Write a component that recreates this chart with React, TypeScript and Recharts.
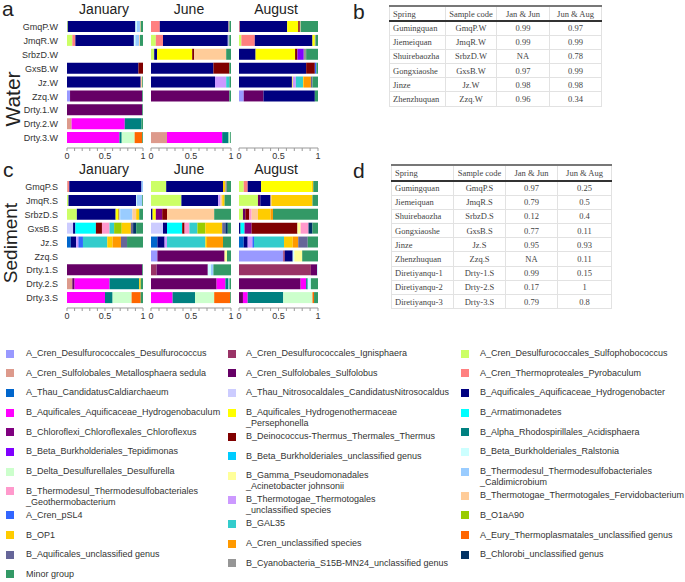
import React from 'react';
import { BarChart, Bar, XAxis, YAxis } from 'recharts';

// taxa in stacking order (same as legend, read row by row)
const taxa = [
  { key: 'Desulfurococcus', label: 'A_Cren_Desulfurococcales_Desulfurococcus', color: '#9999ff' },
  { key: 'Ignisphaera', label: 'A_Cren_Desulfurococcales_Ignisphaera', color: '#993366' },
  { key: 'Sulfophobococcus', label: 'A_Cren_Desulfurococcales_Sulfophobococcus', color: '#ccff66' },
  { key: 'Metallosphaera', label: 'A_Cren_Sulfolobales_Metallosphaera sedula', color: '#dd9a8c' },
  { key: 'Sulfolobus', label: 'A_Cren_Sulfolobales_Sulfolobus', color: '#660066' },
  { key: 'Pyrobaculum', label: 'A_Cren_Thermoproteales_Pyrobaculum', color: '#ff8080' },
  { key: 'Caldiarchaeum', label: 'A_Thau_CandidatusCaldiarchaeum', color: '#0066cc' },
  { key: 'Nitrosocaldus', label: 'A_Thau_Nitrosocaldales_CandidatusNitrosocaldus', color: '#ccccff' },
  { key: 'Hydrogenobacter', label: 'B_Aquificales_Aquificaceae_Hydrogenobacter', color: '#000080' },
  { key: 'Hydrogenobaculum', label: 'B_Aquificales_Aquificaceae_Hydrogenobaculum', color: '#ff00ff' },
  { key: 'Persephonella', label: 'B_Aquificales_Hydrogenothermaceae\n_Persephonella', color: '#ffff00' },
  { key: 'Armatimonadetes', label: 'B_Armatimonadetes', color: '#00ffff' },
  { key: 'Chloroflexus', label: 'B_Chloroflexi_Chloroflexales_Chloroflexus', color: '#800080' },
  { key: 'Thermus', label: 'B_Deinococcus-Thermus_Thermales_Thermus', color: '#800000' },
  { key: 'Acidisphaera', label: 'B_Alpha_Rhodospirillales_Acidisphaera', color: '#008080' },
  { key: 'Tepidimonas', label: 'B_Beta_Burkholderiales_Tepidimonas', color: '#8000ff' },
  { key: 'BetaUncl', label: 'B_Beta_Burkholderiales_unclassified genus', color: '#00ccff' },
  { key: 'Ralstonia', label: 'B_Beta_Burkholderiales_Ralstonia', color: '#ccffff' },
  { key: 'Desulfurella', label: 'B_Delta_Desulfurellales_Desulfurella', color: '#ccffcc' },
  { key: 'Acinetobacter', label: 'B_Gamma_Pseudomonadales\n_Acinetobacter johnsonii', color: '#ffff99' },
  { key: 'Caldimicrobium', label: 'B_Thermodesul_Thermodesulfobacteriales\n_Caldimicrobium', color: '#99ccff' },
  { key: 'Geothermobacterium', label: 'B_Thermodesul_Thermodesulfobacteriales\n_Geothermobacterium', color: '#ff99cc' },
  { key: 'ThermotogalesUncl', label: 'B_Thermotogae_Thermotogales\n_unclassified species', color: '#cc99ff' },
  { key: 'Fervidobacterium', label: 'B_Thermotogae_Thermotogales_Fervidobacterium', color: '#ffcc99' },
  { key: 'pSL4', label: 'A_Cren_pSL4', color: '#3366ff' },
  { key: 'GAL35', label: 'B_GAL35', color: '#33cccc' },
  { key: 'O1aA90', label: 'B_O1aA90', color: '#99cc00' },
  { key: 'OP1', label: 'B_OP1', color: '#ffcc00' },
  { key: 'CrenUncl', label: 'A_Cren_unclassified species', color: '#ff9900' },
  { key: 'EuryUncl', label: 'A_Eury_Thermoplasmatales_unclassified genus', color: '#ff6600' },
  { key: 'AquificalesUncl', label: 'B_Aquificales_unclassified genus', color: '#666699' },
  { key: 'Cyanobacteria', label: 'B_Cyanobacteria_S15B-MN24_unclassified genus', color: '#969696' },
  { key: 'ChlorobiUncl', label: 'B_Chlorobi_unclassified genus', color: '#003366' },
  { key: 'Minor', label: 'Minor group', color: '#339966' },
];

const waterSamples = ['GmqP.W', 'JmqR.W', 'SrbzD.W', 'GxsB.W', 'Jz.W', 'Zzq.W', 'Drty.1.W', 'Drty.2.W', 'Drty.3.W'];
const sedimentSamples = ['GmqP.S', 'JmqR.S', 'SrbzD.S', 'GxsB.S', 'Jz.S', 'Zzq.S', 'Drty.1.S', 'Drty.2.S', 'Drty.3.S'];
const months = ['January', 'June', 'August'];
const xTicks = [0, 0.1, 0.2, 0.3, 0.4, 0.5, 0.6, 0.7, 0.8, 0.9, 1];

type Abund = Record<string, Record<string, number>>;

const waterJan: Abund = {
  'GmqP.W': { Sulfophobococcus: 0.01, Hydrogenobacter: 0.89, Ralstonia: 0.02, Caldimicrobium: 0.04, Fervidobacterium: 0.01, Minor: 0.03 },
  'JmqR.W': { Sulfophobococcus: 0.07, Pyrobaculum: 0.04, Hydrogenobacter: 0.77, Ralstonia: 0.02, Caldimicrobium: 0.05, Fervidobacterium: 0.01, Minor: 0.04 },
  'GxsB.W': { Hydrogenobacter: 0.94, Thermus: 0.06 },
  'Jz.W': { Hydrogenobacter: 0.97, Fervidobacterium: 0.02, Minor: 0.01 },
  'Zzq.W': { Desulfurococcus: 0.04, Sulfolobus: 0.95, Minor: 0.01 },
  'Drty.1.W': { Sulfolobus: 0.99, Minor: 0.01 },
  'Drty.2.W': { Metallosphaera: 0.06, Hydrogenobaculum: 0.7, Acidisphaera: 0.22, Minor: 0.02 },
  'Drty.3.W': { Hydrogenobaculum: 0.69, Acidisphaera: 0.03, Desulfurella: 0.17, EuryUncl: 0.1, Minor: 0.01 },
};

const waterJun: Abund = {
  'GmqP.W': { Pyrobaculum: 0.11, Hydrogenobacter: 0.86, Fervidobacterium: 0.01, Minor: 0.02 },
  'JmqR.W': { Sulfophobococcus: 0.06, Pyrobaculum: 0.09, Hydrogenobacter: 0.81, Caldimicrobium: 0.01, Cyanobacteria: 0.01, Minor: 0.02 },
  'SrbzD.W': { Sulfophobococcus: 0.04, Hydrogenobacter: 0.035, Persephonella: 0.44, Thermus: 0.025, Fervidobacterium: 0.4, Minor: 0.06 },
  'GxsB.W': { Hydrogenobacter: 0.78, Thermus: 0.2, Minor: 0.02 },
  'Jz.W': { Hydrogenobacter: 0.8, ThermotogalesUncl: 0.14, GAL35: 0.04, Minor: 0.02 },
  'Zzq.W': { Sulfolobus: 0.98, Minor: 0.02 },
  'Drty.3.W': { Metallosphaera: 0.2, Hydrogenobaculum: 0.69, Acidisphaera: 0.08, Desulfurella: 0.02, Minor: 0.01 },
};

const waterAug: Abund = {
  'GmqP.W': { Pyrobaculum: 0.01, Hydrogenobacter: 0.6, Persephonella: 0.14, Thermus: 0.02, Fervidobacterium: 0.01, Minor: 0.22 },
  'JmqR.W': { Sulfophobococcus: 0.03, Pyrobaculum: 0.17, Hydrogenobacter: 0.73, Persephonella: 0.03, Cyanobacteria: 0.01, Minor: 0.03 },
  'SrbzD.W': { Hydrogenobacter: 0.21, Persephonella: 0.5, Thermus: 0.03, Tepidimonas: 0.08, Cyanobacteria: 0.03, Minor: 0.15 },
  'GxsB.W': { Hydrogenobacter: 0.85, Thermus: 0.11, pSL4: 0.02, Minor: 0.02 },
  'Jz.W': { Hydrogenobacter: 0.67, Persephonella: 0.01, ThermotogalesUncl: 0.04, GAL35: 0.09, OP1: 0.01, CrenUncl: 0.09, AquificalesUncl: 0.02, Minor: 0.07 },
  'Zzq.W': { Desulfurococcus: 0.06, Sulfolobus: 0.25, Hydrogenobacter: 0.65, Minor: 0.04 },
};

const sedJan: Abund = {
  'GmqP.S': { Metallosphaera: 0.01, Pyrobaculum: 0.02, Hydrogenobacter: 0.95, Caldimicrobium: 0.02 },
  'JmqR.S': { Sulfophobococcus: 0.02, Hydrogenobacter: 0.89, Ralstonia: 0.01, Caldimicrobium: 0.07, Minor: 0.01 },
  'SrbzD.S': { Sulfophobococcus: 0.13, Hydrogenobacter: 0.51, Persephonella: 0.04, Thermus: 0.01, Ralstonia: 0.01, Caldimicrobium: 0.16, Fervidobacterium: 0.05, OP1: 0.04, Minor: 0.05 },
  'GxsB.S': { Nitrosocaldus: 0.08, Hydrogenobacter: 0.03, Armatimonadetes: 0.27, Thermus: 0.08, Geothermobacterium: 0.1, GAL35: 0.06, O1aA90: 0.1, OP1: 0.12, AquificalesUncl: 0.03, ChlorobiUncl: 0.04, Minor: 0.09 },
  'Jz.S': { Caldiarchaeum: 0.05, Hydrogenobacter: 0.07, ThermotogalesUncl: 0.03, pSL4: 0.06, GAL35: 0.32, OP1: 0.07, CrenUncl: 0.11, AquificalesUncl: 0.08, Minor: 0.21 },
  'Drty.1.S': { Sulfolobus: 0.99, Minor: 0.01 },
  'Drty.2.S': { Metallosphaera: 0.07, Sulfolobus: 0.03, Hydrogenobaculum: 0.46, Acidisphaera: 0.39, OP1: 0.02, Minor: 0.03 },
  'Drty.3.S': { Hydrogenobaculum: 0.5, Acidisphaera: 0.1, Desulfurella: 0.25, EuryUncl: 0.12, Minor: 0.03 },
};

const sedJun: Abund = {
  'GmqP.S': { Sulfophobococcus: 0.19, Hydrogenobacter: 0.71, OP1: 0.03, Cyanobacteria: 0.02, Minor: 0.05 },
  'JmqR.S': { Sulfophobococcus: 0.38, Hydrogenobacter: 0.46, ThermotogalesUncl: 0.03, Fervidobacterium: 0.02, OP1: 0.03, Minor: 0.08 },
  'SrbzD.S': { Hydrogenobacter: 0.02, Persephonella: 0.04, Chloroflexus: 0.08, Thermus: 0.06, Fervidobacterium: 0.59, Minor: 0.21 },
  'GxsB.S': { Nitrosocaldus: 0.15, Hydrogenobacter: 0.05, Armatimonadetes: 0.19, Thermus: 0.03, Geothermobacterium: 0.06, GAL35: 0.1, O1aA90: 0.1, OP1: 0.21, AquificalesUncl: 0.04, ChlorobiUncl: 0.03, Minor: 0.04 },
  'Jz.S': { Caldiarchaeum: 0.08, Hydrogenobacter: 0.09, ThermotogalesUncl: 0.03, GAL35: 0.48, OP1: 0.02, CrenUncl: 0.2, Minor: 0.1 },
  'Zzq.S': { Desulfurococcus: 0.08, Sulfolobus: 0.84, Acinetobacter: 0.03, Minor: 0.05 },
  'Drty.1.S': { Ignisphaera: 0.07, Sulfolobus: 0.64, Ralstonia: 0.04, Caldimicrobium: 0.03, Minor: 0.22 },
  'Drty.2.S': { Sulfolobus: 0.82, Hydrogenobaculum: 0.11, Acidisphaera: 0.04, Ralstonia: 0.01, Minor: 0.02 },
  'Drty.3.S': { Hydrogenobaculum: 0.27, Acidisphaera: 0.28, Desulfurella: 0.24, EuryUncl: 0.2, Minor: 0.01 },
};

const sedAug: Abund = {
  'GmqP.S': { Sulfophobococcus: 0.06, Pyrobaculum: 0.05, Hydrogenobacter: 0.17, Persephonella: 0.64, OP1: 0.02, Minor: 0.06 },
  'JmqR.S': { Sulfolobus: 0.03, Sulfophobococcus: 0.24, Hydrogenobacter: 0.13, Fervidobacterium: 0.01, OP1: 0.52, Minor: 0.07 },
  'SrbzD.S': { Sulfophobococcus: 0.05, Sulfolobus: 0.03, Thermus: 0.05, Geothermobacterium: 0.03, Fervidobacterium: 0.08, OP1: 0.16, CrenUncl: 0.03, Minor: 0.57 },
  'GxsB.S': { Hydrogenobacter: 0.02, Armatimonadetes: 0.05, Chloroflexus: 0.09, Thermus: 0.58, Geothermobacterium: 0.1, Acinetobacter: 0.04, ChlorobiUncl: 0.05, Minor: 0.07 },
  'Jz.S': { Caldiarchaeum: 0.06, Hydrogenobacter: 0.05, ThermotogalesUncl: 0.06, pSL4: 0.02, GAL35: 0.38, OP1: 0.11, CrenUncl: 0.07, AquificalesUncl: 0.12, Minor: 0.13 },
  'Zzq.S': { Desulfurococcus: 0.56, Ignisphaera: 0.02, Hydrogenobacter: 0.1, Ralstonia: 0.02, Acinetobacter: 0.1, Minor: 0.2 },
  'Drty.1.S': { Ignisphaera: 0.91, Sulfolobus: 0.08, Ralstonia: 0.01 },
  'Drty.2.S': { Sulfolobus: 0.78, Hydrogenobaculum: 0.07, Acidisphaera: 0.02, Ralstonia: 0.04, Minor: 0.09 },
  'Drty.3.S': { Sulfolobus: 0.05, Hydrogenobaculum: 0.06, Acidisphaera: 0.45, Desulfurella: 0.37, EuryUncl: 0.02, Minor: 0.05 },
};

const tableHeader = ['Spring', 'Sample code', 'Jan & Jun', 'Jun & Aug'];
const tableWater = [
  ['Gumingquan', 'GmqP.W', '0.99', '0.97'],
  ['Jiemeiquan', 'JmqR.W', '0.99', '0.99'],
  ['Shuirebaozha', 'SrbzD.W', 'NA', '0.78'],
  ['Gongxiaoshe', 'GxsB.W', '0.97', '0.99'],
  ['Jinze', 'Jz.W', '0.98', '0.98'],
  ['Zhenzhuquan', 'Zzq.W', '0.96', '0.34'],
];
const tableSediment = [
  ['Gumingquan', 'GmqP.S', '0.97', '0.25'],
  ['Jiemeiquan', 'JmqR.S', '0.79', '0.5'],
  ['Shuirebaozha', 'SrbzD.S', '0.12', '0.4'],
  ['Gongxiaoshe', 'GxsB.S', '0.77', '0.11'],
  ['Jinze', 'Jz.S', '0.95', '0.93'],
  ['Zhenzhuquan', 'Zzq.S', 'NA', '0.11'],
  ['Diretiyanqu-1', 'Drty-1.S', '0.99', '0.15'],
  ['Diretiyanqu-2', 'Drty-2.S', '0.17', '1'],
  ['Diretiyanqu-3', 'Drty-3.S', '0.79', '0.8'],
];

const SANS = 'Arial, "Liberation Sans", sans-serif';
const SERIF = '"Times New Roman", "Liberation Serif", serif';

// x placement of the three month panels (svgs overlap a little so edge tick labels are not clipped)
const panelPos = [
  { x: 0, width: 152, margin: { top: 20, right: 9, bottom: 0, left: 0 } },
  { x: 144, width: 94, margin: { top: 20, right: 7, bottom: 0, left: 7 } },
  { x: 232, width: 94, margin: { top: 20, right: 8, bottom: 0, left: 7 } },
];

const fmtTick = (v: number) => (v === 0 ? '0' : v === 0.5 ? '0.5' : v === 1 ? '1' : '');

const StackPanel = ({ samples, values, idx, top }: { samples: string[]; values: Abund; idx: number; top: number }) => {
  const rows = samples.map((name) => {
    const r: any = { name };
    taxa.forEach((t) => (r[t.key] = values[name]?.[t.key] ?? 0));
    return r;
  });
  const pos = panelPos[idx];
  return (
    <div style={{ position: 'absolute', left: pos.x, top }}>
      <BarChart layout="vertical" width={pos.width} height={168} data={rows} margin={pos.margin} barSize={11}>
        <XAxis
          type="number"
          domain={[0, 1]}
          allowDataOverflow
          ticks={xTicks}
          interval={0}
          tickFormatter={fmtTick}
          tickSize={3}
          stroke="#999"
          tick={{ fontSize: 9, fill: '#333', fontFamily: SANS }}
          height={20}
        />
        <YAxis
          type="category"
          dataKey="name"
          hide={idx !== 0}
          width={67}
          axisLine={false}
          tickLine={false}
          interval={0}
          tickMargin={3}
          padding={{ top: 0, bottom: 3 }}
          tick={{ fontSize: 9, fill: '#333', fontFamily: SANS }}
        />
        {taxa.map((t) => (
          <Bar key={t.key} dataKey={t.key} stackId="s" fill={t.color} isAnimationActive={false} />
        ))}
      </BarChart>
    </div>
  );
};

const SimTable = ({ rows, left, top, cols, headH }: { rows: string[][]; left: number; top: number; cols: number[]; headH: number }) => {
  const cell = (i: number): React.CSSProperties => ({
    width: cols[i],
    padding: i === 0 ? '0 0 0 3px' : 0,
    textAlign: i === 0 ? 'left' : 'center',
    borderLeft: '1px solid #e2e2e2',
    borderRight: '1px solid #e2e2e2',
    borderBottom: '1px solid #e2e2e2',
    fontWeight: 'normal',
    whiteSpace: 'nowrap',
    overflow: 'hidden',
  });
  return (
    <table
      style={{
        position: 'absolute', left, top, borderCollapse: 'collapse', tableLayout: 'fixed',
        fontFamily: SERIF, fontSize: 8.5, color: '#444', borderTop: '2px solid #777',
      }}
    >
      <thead>
        <tr style={{ height: headH, borderBottom: '2px solid #333' }}>
          {tableHeader.map((h, i) => (
            <th key={h} style={{ ...cell(i), borderBottom: '2px solid #333' }}>{h}</th>
          ))}
        </tr>
      </thead>
      <tbody>
        {rows.map((r) => (
          <tr key={r[1]} style={{ height: 14.2 }}>
            {r.map((v, i) => (
              <td key={i} style={cell(i)}>{v}</td>
            ))}
          </tr>
        ))}
      </tbody>
    </table>
  );
};

const legendCols = [
  { swatch: 6, text: 26 },
  { swatch: 228, text: 246 },
  { swatch: 461, text: 480 },
];

const Legend = () => (
  <>
    {legendCols.map((c, ci) => (
      <div key={ci} style={{ position: 'absolute', top: 348, left: 0 }}>
        {taxa
          .filter((_, i) => i % 3 === ci)
          .map((t) => {
            const lines = t.label.split('\n');
            return (
              <div key={t.key} style={{ position: 'relative', height: lines.length > 1 ? 24 : 19.7 }}>
                <div style={{ position: 'absolute', left: c.swatch, top: 1.5, width: 8, height: 8, background: t.color }} />
                <div
                  style={{
                    position: 'absolute', left: c.text, top: 0, fontFamily: SANS, fontSize: 9,
                    lineHeight: '11px', color: '#333', whiteSpace: 'pre',
                  }}
                >
                  {lines.join('\n')}
                </div>
              </div>
            );
          })}
      </div>
    ))}
  </>
);

const titleX = [104, 189, 276];

export default function App() {
  return (
    <div style={{ position: 'absolute', left: 0, top: 0, width: 685, height: 582, background: '#fff', overflow: 'hidden' }}>
      <StackPanel samples={waterSamples} values={waterJan} idx={0} top={0} />
      <StackPanel samples={waterSamples} values={waterJun} idx={1} top={0} />
      <StackPanel samples={waterSamples} values={waterAug} idx={2} top={0} />
      <StackPanel samples={sedimentSamples} values={sedJan} idx={0} top={160} />
      <StackPanel samples={sedimentSamples} values={sedJun} idx={1} top={160} />
      <StackPanel samples={sedimentSamples} values={sedAug} idx={2} top={160} />

      <svg width={685} height={582} style={{ position: 'absolute', left: 0, top: 0, pointerEvents: 'none' }}>
        <g fontFamily={SANS} fill="#222">
          <text x={2} y={16} fontSize={21}>a</text>
          <text x={353} y={19} fontSize={21}>b</text>
          <text x={3} y={177} fontSize={21}>c</text>
          <text x={353} y={178} fontSize={21}>d</text>
          {months.map((m, i) => (
            <text key={'w' + m} x={titleX[i]} y={14} fontSize={14} textAnchor="middle">{m}</text>
          ))}
          {months.map((m, i) => (
            <text key={'s' + m} x={titleX[i]} y={174} fontSize={14} textAnchor="middle">{m}</text>
          ))}
          <text transform="translate(20,99) rotate(-90)" fontSize={21} textAnchor="middle">Water</text>
          <text transform="translate(17,243) rotate(-90)" fontSize={19} textAnchor="middle">Sediment</text>
        </g>
      </svg>

      <SimTable rows={tableWater} left={389} top={5} cols={[52, 50, 52, 51]} headH={15} />
      <SimTable rows={tableSediment} left={391} top={164} cols={[58, 51, 51, 53]} headH={16} />
      <Legend />
    </div>
  );
}
